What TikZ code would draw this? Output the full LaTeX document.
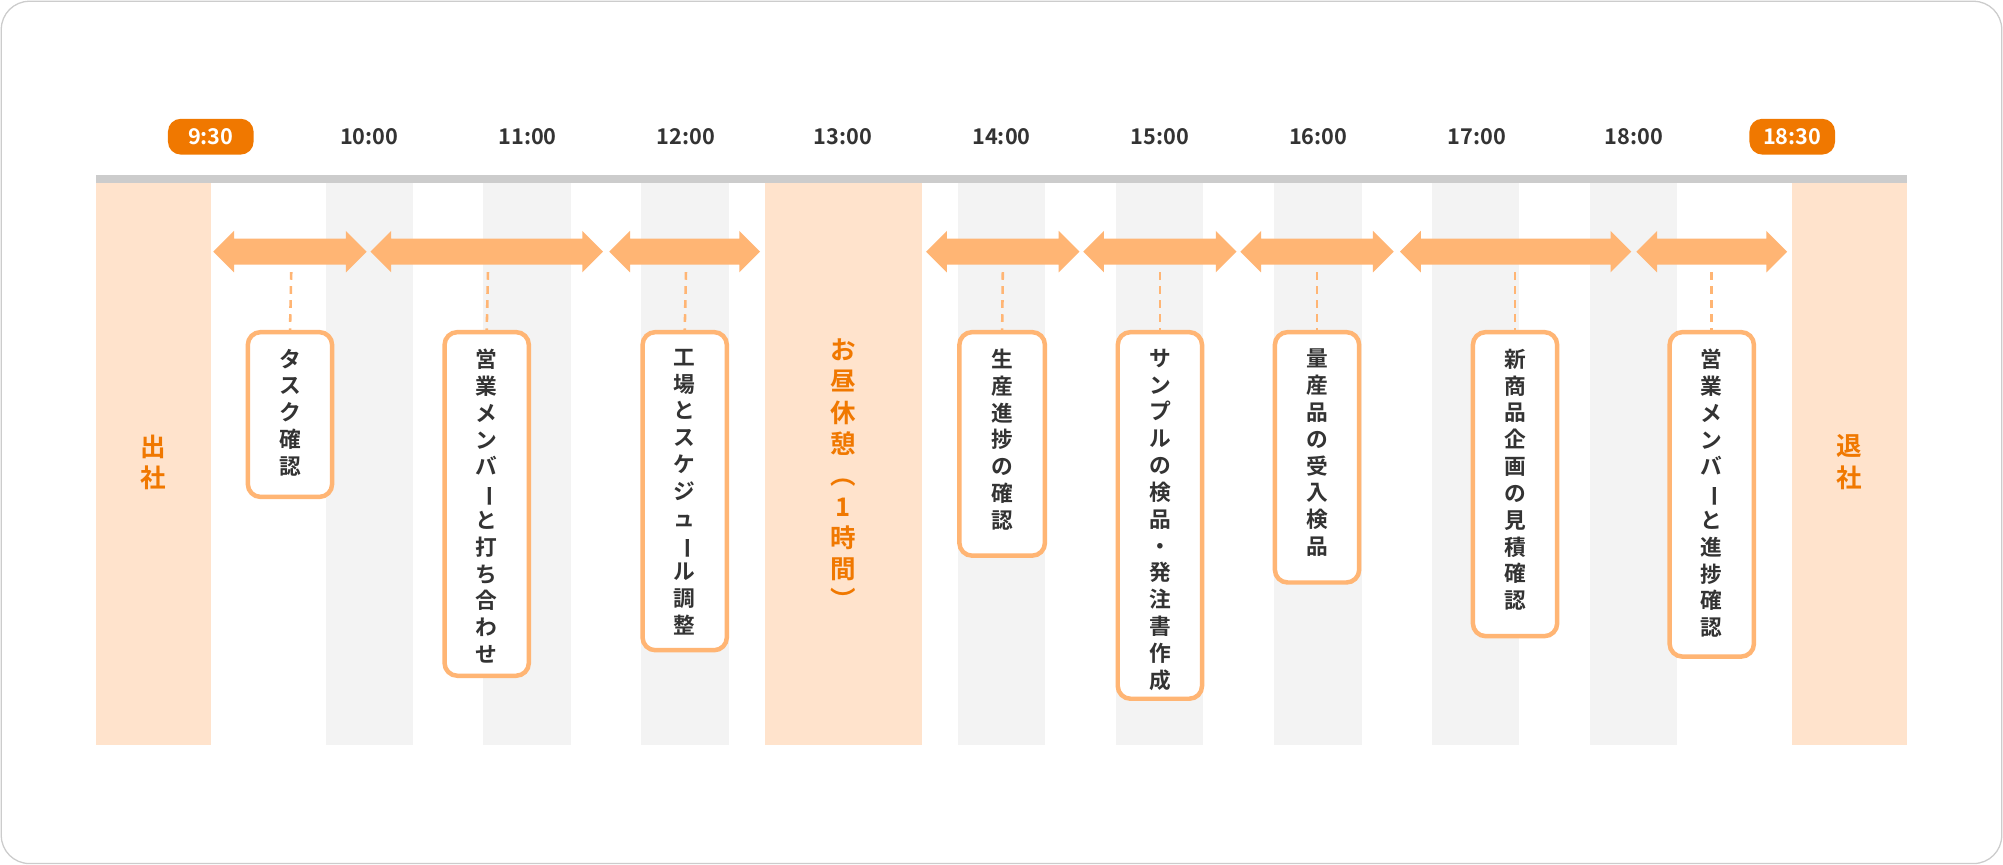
\documentclass[tikz,border=0pt]{standalone}
\usepackage{fontspec}
\setmainfont{Noto Sans CJK JP}[BoldFont={* Bold}]
\usetikzlibrary{shapes.arrows}
\definecolor{og}{HTML}{F07800}
\definecolor{lo}{HTML}{FFE3CC}
\definecolor{ar}{HTML}{FFB574}
\definecolor{st}{HTML}{F3F3F3}
\definecolor{tx}{HTML}{333333}
\newcommand{\vb}{\rotatebox[origin=c]{-90}{ー}}
\tikzset{
 tlab/.style={font=\bfseries\fontsize{17}{17}\selectfont,text=tx},
 pill/.style={fill=og,text=white,rounded corners=10pt,minimum width=67pt,minimum height=28pt,font=\bfseries\fontsize{17}{17}\selectfont},
 dar/.style={double arrow,fill=ar,double arrow head extend=6pt,inner xsep=0pt,inner ysep=10pt,minimum width=32pt,double arrow tip angle=90},
 vtxt/.style={align=center,anchor=north,inner sep=0pt,font=\bfseries\fontsize{17}{21}\selectfont,text=tx},
 stxt/.style={align=center,anchor=north,inner sep=0pt,font=\bfseries\fontsize{20}{25}\selectfont,text=og},
 taskbox/.style={draw=ar,line width=3.5pt,fill=white,rounded corners=10pt},
 dsh/.style={ar,dashed,line width=2pt,dash pattern=on 6pt off 5pt},
}
\begin{document}
\begin{tikzpicture}[x=1pt,y=-1pt]
\useasboundingbox (0,0) rectangle (1568,677);
\draw[draw=black!20,fill=white,line width=1pt,rounded corners=22pt] (1,1) rectangle (1567,676);
\foreach \a/\b in {255/323,378/447,502/571,750/818,874/942,997/1066,1121/1189,1245/1313}
 \fill[st] (\a,143) rectangle (\b,583);
\fill[lo] (75,143) rectangle (165,583);
\fill[lo] (599,143) rectangle (722,583);
\fill[lo] (1403,143) rectangle (1493,583);
\fill[black!20] (75,137) rectangle (1493,143);
\node[pill] (t930) at (165,107) {9:30};
\node[pill] (t1830) at (1403,107) {18:30};
\foreach \x/\t in {289/10:00,413/11:00,537/12:00,660/13:00,784/14:00,908/15:00,1032/16:00,1156/17:00,1279/18:00}
 \node[tlab] (t\x) at (\x,107) {\t};
\node[stxt] (in) at (120,340) {出\\社};
\node[stxt] (out) at (1448,340) {退\\社};
\node[stxt,font=\bfseries\fontsize{20}{24.5}\selectfont] (lunch) at (660,265) {お\\昼\\休\\憩\\︵\\1\\時\\間\\︶};
\foreach \n/\a/\b in {a1/167/287,a2/290/472,a3/477/595,a4/725/845,a5/848/968,a6/971/1091,a7/1096/1277,a8/1281/1399}
 \node[dar,minimum height=\b-\a] (\n) at ({(\a+\b)/2},197) {};
\foreach \n/\a/\b/\c/\t in {
 b1/194/260/389/{タ\\ス\\ク\\確\\認},
 b2/348/414/529/{営\\業\\メ\\ン\\バ\\\vb\\と\\打\\ち\\合\\わ\\せ},
 b3/503/569/509/{工\\場\\と\\ス\\ケ\\ジ\\ュ\\\vb\\ル\\調\\整},
 b4/751/818/435/{生\\産\\進\\捗\\の\\確\\認},
 b5/875/941/547/{サ\\ン\\プ\\ル\\の\\検\\品\\・\\発\\注\\書\\作\\成},
 b6/998/1064/456/{量\\産\\品\\の\\受\\入\\検\\品},
 b7/1153/1219/498/{新\\商\\品\\企\\画\\の\\見\\積\\確\\認},
 b8/1307/1373/514/{営\\業\\メ\\ン\\バ\\\vb\\と\\進\\捗\\確\\認}}
{
 \draw[taskbox] (\a,260) rectangle (\b,\c);
 \coordinate (\n) at ({(\a+\b)/2},260);
 \node[vtxt] (\n t) at ({(\a+\b)/2},273) {\t};
}
\foreach \i/\x in {1/228,2/382,3/537,4/785,5/908,6/1031,7/1186,8/1340}
 \draw[dsh] (\x,213) -- (b\i);
\end{tikzpicture}
\end{document}
